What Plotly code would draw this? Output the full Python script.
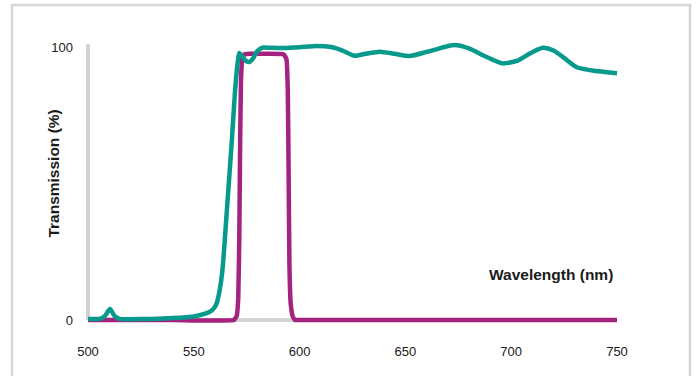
import plotly.graph_objects as go

# Teal curve (broad longpass-like filter), wavelength (nm) vs transmission (%)
teal_x = [500, 506, 508, 510.4, 512.5, 515, 520, 530, 540, 550, 555, 558.5, 560.5, 562, 563.5,
          565.7, 568, 569.5, 570.7, 571.5, 572.5, 574.5, 576.3, 578, 580, 582.5, 586, 592,
          600, 608, 615, 620, 626, 631, 638, 645, 652, 660, 667, 673, 680, 688, 696, 703,
          709, 715, 720, 725, 731, 740, 750]
teal_y = [0.4, 0.5, 1.5, 4.0, 1.5, 0.4, 0.3, 0.4, 0.7, 1.3, 2.2, 3.5, 5.5, 10, 18,
          41, 66, 84, 94, 97.8, 97.0, 95.0, 94.5, 95.8, 98.5, 99.8, 99.7, 99.6,
          99.9, 100.4, 100.0, 98.8, 96.8, 97.5, 98.3, 97.5, 96.7, 98.2, 99.7, 100.7, 99.5, 96.5, 94.0, 95.0,
          97.7, 99.7, 98.7, 96.0, 92.6, 91.2, 90.4]

# Magenta curve (bandpass filter)
mag_x = [500, 540, 569, 570.3, 571.0, 571.5, 571.9, 572.3, 572.9, 573.8, 576, 585, 592.5,
         593.8, 594.4, 594.8, 595.2, 595.8, 596.7, 597.8, 600, 650, 700, 750]
mag_y = [0, 0, 0, 1.5, 8, 30, 65, 88, 95.5, 97.2, 97.5, 97.5, 97.3,
         95.5, 85, 55, 20, 6, 1.5, 0, 0, 0, 0, 0]

x_ticks = [500, 550, 600, 650, 700, 750]
y_ticks = [0, 100]

TEAL = "#069a8d"
MAGENTA = "#a3237f"
AXIS_GRAY = "#d2d2d4"

fig = go.Figure()
fig.add_trace(go.Scatter(x=mag_x, y=mag_y, mode="lines",
                         line=dict(color=MAGENTA, width=4.5, shape="spline", smoothing=0.3),
                         hoverinfo="skip"))
fig.add_trace(go.Scatter(x=teal_x, y=teal_y, mode="lines",
                         line=dict(color=TEAL, width=4.5, shape="spline", smoothing=0.6),
                         hoverinfo="skip"))

px_per_nm = 529 / 250.0
px_per_pct = 273 / 100.0
xr = [500 - 8 / px_per_nm, 750 + 8 / px_per_nm]
yr = [-10 / px_per_pct, 290 / px_per_pct]

fig.update_layout(
    width=697, height=376,
    margin=dict(l=80, r=72, t=30, b=46),
    paper_bgcolor="white", plot_bgcolor="white",
    showlegend=False,
    font=dict(family="Liberation Sans, Arial, sans-serif", size=13, color="#1a1a1a"),
    xaxis=dict(range=xr, tickvals=x_ticks, ticktext=[str(v) for v in x_ticks],
               showgrid=False, zeroline=False, showline=False, ticks="",
               ticklabelstandoff=12, fixedrange=True),
    yaxis=dict(range=yr, tickvals=y_ticks, ticktext=[str(v) for v in y_ticks],
               showgrid=False, zeroline=False, showline=False, ticks="",
               ticklabelstandoff=6, fixedrange=True),
    shapes=[
        # outer frame
        dict(type="rect", xref="paper", yref="paper",
             x0=-0.1248, x1=1.1193, y0=-0.2, y1=1.0833,
             line=dict(color="#d6d6d6", width=2.5), layer="below"),
        # y axis bar
        dict(type="line", xref="x", yref="y", x0=500, x1=500, y0=0, y1=101,
             line=dict(color=AXIS_GRAY, width=4), layer="below"),
        # x axis bar
        dict(type="line", xref="x", yref="y", x0=500, x1=750, y0=0, y1=0,
             line=dict(color=AXIS_GRAY, width=4), layer="below"),
    ],
    annotations=[
        dict(text="<b>Wavelength (nm)</b>", x=718.8, y=16.8, xref="x", yref="y",
             showarrow=False, font=dict(size=15.5, color="#1a1a1a")),
        dict(text="<b>Transmission (%)</b>", x=-0.0679, y=0.523, xref="paper", yref="paper",
             textangle=-90, showarrow=False, font=dict(size=15.5, color="#1a1a1a")),
    ],
)

fig.write_html("out.html",
               config={"displayModeBar": False, "staticPlot": True},
               post_script="document.body.style.margin='0';document.body.style.overflow='hidden';")
